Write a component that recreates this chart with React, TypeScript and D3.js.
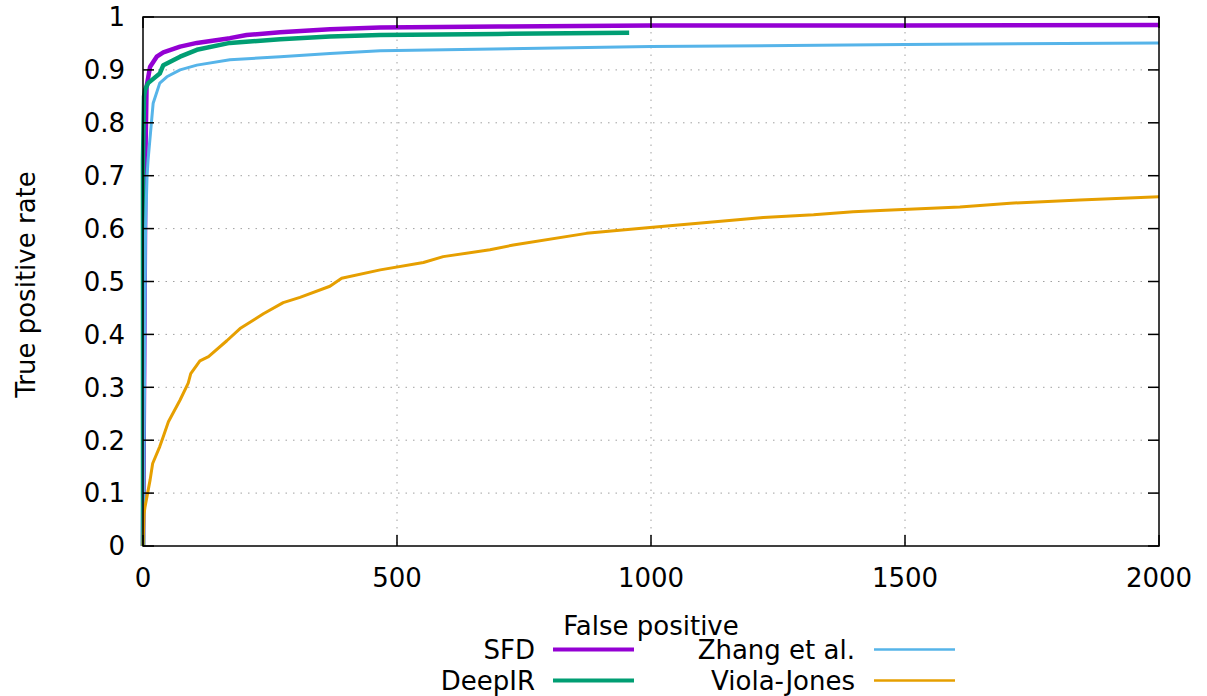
import React from "react";
import * as d3 from "d3";

// ROC curves
const sfdX = [0, 3, 5, 7, 14, 27, 40, 73, 106, 171, 204, 270, 368, 467, 700, 1000, 1500, 2000];
const sfdY = [0, 0.45, 0.75, 0.868, 0.906, 0.925, 0.933, 0.944, 0.951, 0.96, 0.966, 0.971, 0.977, 0.98, 0.982, 0.984, 0.984, 0.985];

const deepX = [0, 0, 2, 4, 10, 33, 40, 73, 106, 171, 270, 368, 467, 700, 957];
const deepY = [0, 0.73, 0.85, 0.862, 0.875, 0.893, 0.909, 0.925, 0.938, 0.951, 0.958, 0.963, 0.966, 0.968, 0.97];

const zhangX = [0, 3, 5, 8, 10, 17, 20, 33, 47, 73, 106, 171, 270, 368, 467, 1000, 1500, 2000];
const zhangY = [0, 0.3, 0.6, 0.7, 0.73, 0.805, 0.837, 0.875, 0.887, 0.9, 0.909, 0.919, 0.925, 0.931, 0.936, 0.944, 0.948, 0.951];

const vjX = [0, 2, 4, 14, 19, 33, 40, 50, 73, 89, 94, 112, 129, 165, 191, 237, 276, 309, 368, 391, 467, 552, 591, 683, 729, 873, 998, 1221, 1320, 1398, 1451, 1608, 1707, 1844, 2000];
const vjY = [0, 0.06, 0.074, 0.125, 0.156, 0.188, 0.207, 0.235, 0.276, 0.308, 0.326, 0.35, 0.358, 0.388, 0.411, 0.439, 0.46, 0.47, 0.491, 0.506, 0.522, 0.536, 0.547, 0.56, 0.569, 0.591, 0.602, 0.621, 0.626, 0.632, 0.634, 0.641, 0.648, 0.654, 0.66];

const xTicks = [0, 500, 1000, 1500, 2000];
const yTicks = [0, 0.1, 0.2, 0.3, 0.4, 0.5, 0.6, 0.7, 0.8, 0.9, 1];

const series = [
  { name: "SFD", xs: sfdX, ys: sfdY, color: "#9400d3", width: 4.5 },
  { name: "DeepIR", xs: deepX, ys: deepY, color: "#009e73", width: 4.5 },
  { name: "Zhang et al.", xs: zhangX, ys: zhangY, color: "#56b4e9", width: 3 },
  { name: "Viola-Jones", xs: vjX, ys: vjY, color: "#e69f00", width: 3 },
];

const W = 1207, H = 696;
const left = 143, right = 1159, top = 17, bottom = 546;
const font = "'DejaVu Sans', sans-serif";
const fs = 26;

export default function App() {
  const x = d3.scaleLinear().domain([0, 2000]).range([left, right]);
  const y = d3.scaleLinear().domain([0, 1]).range([bottom, top]);
  const line = d3.line<[number, number]>().x(d => x(d[0])).y(d => y(d[1]));
  const tick = 11;

  return (
    <svg width={W} height={H} style={{ position: "absolute", left: 0, top: 0 }} fontFamily={font}>
      <rect width={W} height={H} fill="#fff" />
      {/* grid */}
      {yTicks.filter(t => t > 0 && t < 1).map(t => (
        <line key={"gy" + t} x1={left} x2={right} y1={y(t)} y2={y(t)} stroke="#a0a0a0" strokeWidth={1} strokeDasharray="1.5,6" />
      ))}
      {xTicks.filter(t => t > 0 && t < 2000).map(t => (
        <line key={"gx" + t} x1={x(t)} x2={x(t)} y1={top} y2={bottom} stroke="#a0a0a0" strokeWidth={1} strokeDasharray="1.5,6" />
      ))}
      {/* curves */}
      {series.map(s => (
        <path key={s.name} d={line(s.xs.map((v, i) => [v, s.ys[i]] as [number, number])) || ""}
          fill="none" stroke={s.color} strokeWidth={s.width} strokeLinejoin="round" />
      ))}
      {/* border + ticks */}
      <rect x={left} y={top} width={right - left} height={bottom - top} fill="none" stroke="#000" strokeWidth={1.5} />
      {yTicks.map(t => (
        <g key={"ty" + t}>
          <line x1={left} x2={left + tick} y1={y(t)} y2={y(t)} stroke="#000" strokeWidth={1.5} />
          <line x1={right} x2={right - tick} y1={y(t)} y2={y(t)} stroke="#000" strokeWidth={1.5} />
          <text x={125} y={y(t)} dy="0.36em" textAnchor="end" fontSize={fs}>{t}</text>
        </g>
      ))}
      {xTicks.map(t => (
        <g key={"tx" + t}>
          <line x1={x(t)} x2={x(t)} y1={bottom} y2={bottom - tick} stroke="#000" strokeWidth={1.5} />
          <line x1={x(t)} x2={x(t)} y1={top} y2={top + tick} stroke="#000" strokeWidth={1.5} />
          <text x={x(t)} y={587} textAnchor="middle" fontSize={fs}>{t}</text>
        </g>
      ))}
      {/* axis titles */}
      <text transform={`translate(35, ${(top + bottom) / 2 + 3}) rotate(-90)`} textAnchor="middle" fontSize={fs}>True positive rate</text>
      <text x={651} y={635} textAnchor="middle" fontSize={fs}>False positive</text>
      {/* legend */}
      {series.map((s, i) => {
        const col = Math.floor(i / 2), row = i % 2;
        const tx = col === 0 ? 535 : 855;
        const lx = col === 0 ? 553 : 874;
        const ly = 649.5 + row * 31;
        return (
          <g key={"lg" + s.name}>
            <text x={tx} y={ly} dy="0.36em" textAnchor="end" fontSize={fs}>{s.name}</text>
            <line x1={lx} x2={lx + 81} y1={ly} y2={ly} stroke={s.color} strokeWidth={s.width - 0.5} />
          </g>
        );
      })}
    </svg>
  );
}
